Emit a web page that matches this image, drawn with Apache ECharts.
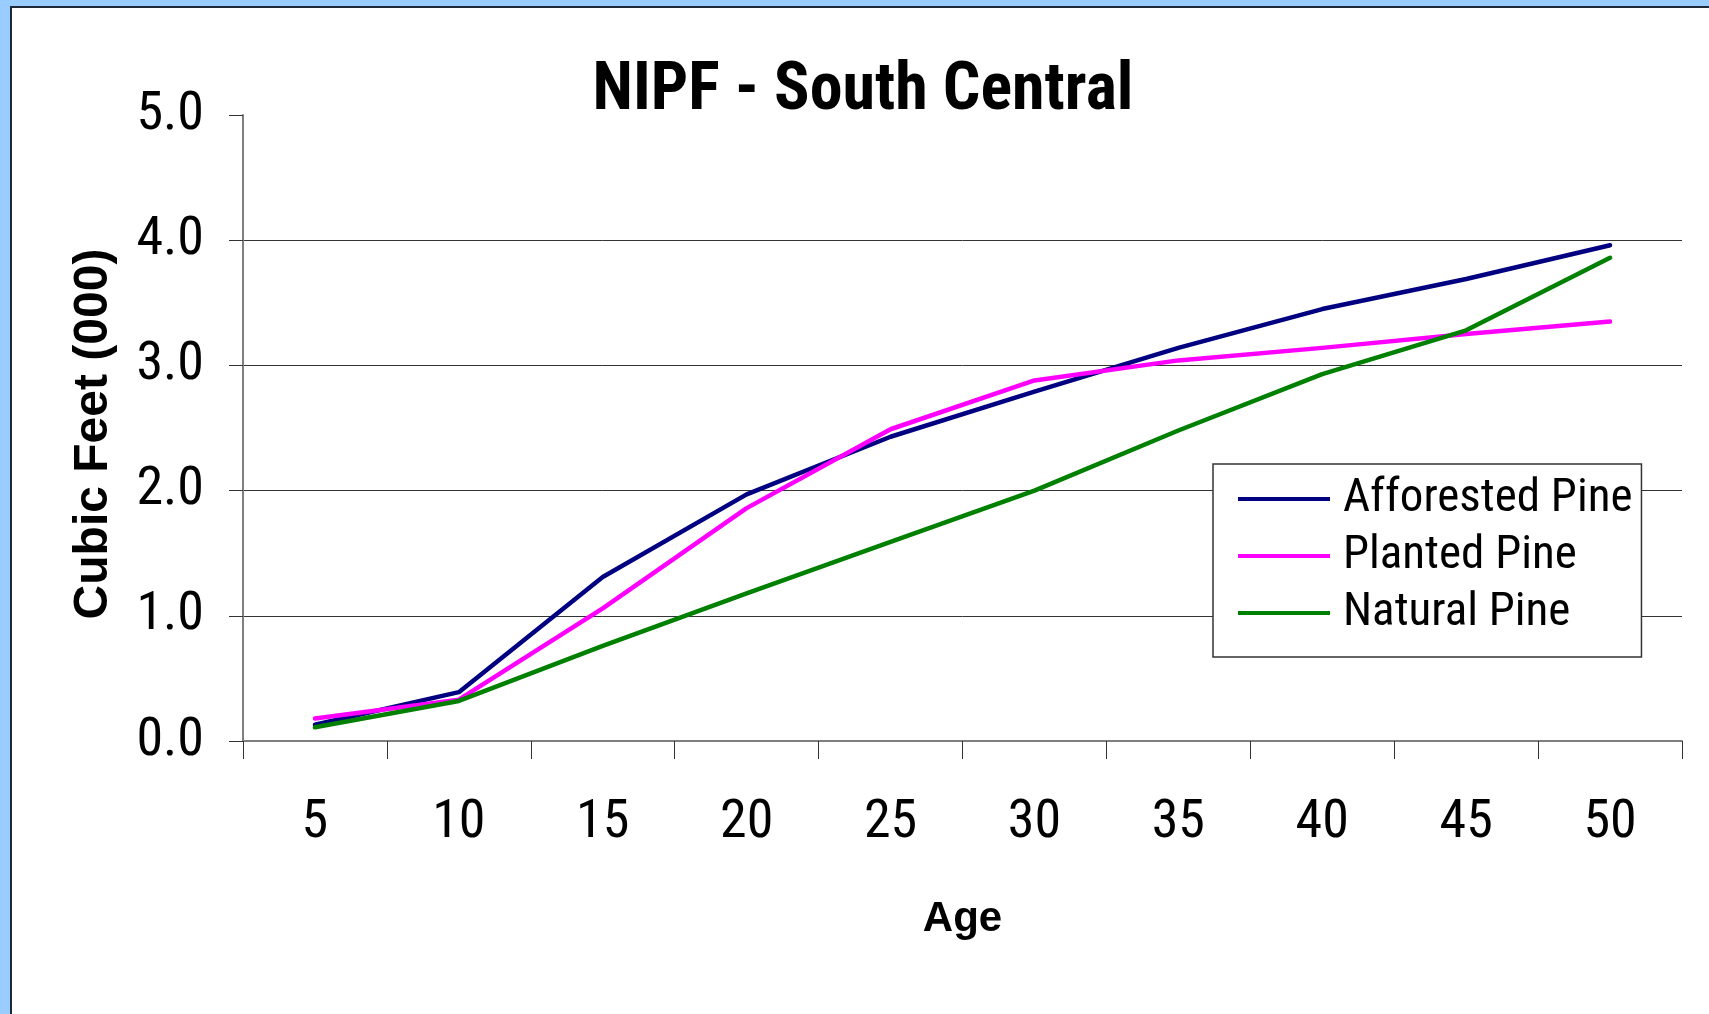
<!DOCTYPE html>
<html>
<head>
<meta charset="utf-8">
<title>NIPF - South Central</title>
<script src="https://cdn.jsdelivr.net/npm/echarts@6/dist/echarts.min.js"></script>
<style>
  html, body { margin: 0; padding: 0; background: #99CCFF; }
  #chart { width: 1709px; height: 1014px; }
</style>
</head>
<body>
<div id="chart"></div>
<script>
// Stand age (years) and volume per acre, in thousands of cubic feet
const ages = ['5', '10', '15', '20', '25', '30', '35', '40', '45', '50'];
const afforestedPine = [0.13, 0.39, 1.31, 1.97, 2.43, 2.79, 3.14, 3.45, 3.69, 3.96];
const plantedPine    = [0.18, 0.33, 1.06, 1.86, 2.49, 2.88, 3.04, 3.14, 3.25, 3.35];
const naturalPine    = [0.11, 0.32, 0.76, 1.18, 1.59, 2.00, 2.48, 2.93, 3.28, 3.86];
const seriesNames = ['Afforested Pine', 'Planted Pine', 'Natural Pine'];
const seriesColors = ['#000080', '#FF00FF', '#008000'];

const NARROW = '"Roboto Condensed", "Liberation Sans", Arial, sans-serif';
const SANS = '"Liberation Sans", Arial, Helvetica, sans-serif';

const chart = echarts.init(document.getElementById('chart'), null, { renderer: 'canvas' });

const seriesData = [afforestedPine, plantedPine, naturalPine];

chart.setOption({
  backgroundColor: '#99CCFF',
  animation: false,
  graphic: [{
    type: 'rect',
    z: -100,
    silent: true,
    shape: { x: 11, y: 7, width: 1720, height: 1030 },
    style: { fill: '#FFFFFF', stroke: '#1E2836', lineWidth: 2 }
  }],
  title: {
    text: 'NIPF - South Central',
    left: 858,
    top: 54,
    textAlign: 'center',
    textStyle: {
      fontFamily: NARROW,
      fontWeight: 'bold',
      fontSize: 66,
      lineHeight: 66,
      color: '#000'
    }
  },
  legend: {
    orient: 'vertical',
    left: 1213,
    top: 464,
    icon: 'rect',
    itemWidth: 92,
    itemHeight: 4,
    itemGap: 9,
    padding: [11, 9, 20, 25],
    backgroundColor: '#FFFFFF',
    borderColor: '#333333',
    borderWidth: 1.5,
    data: seriesNames,
    textStyle: {
      fontFamily: NARROW,
      fontSize: 47,
      lineHeight: 48,
      width: 281,
      color: '#000',
      padding: [0, 0, 0, 8]
    }
  },
  grid: {
    left: 243,
    right: 27,
    top: 115,
    bottom: 273,
    containLabel: false
  },
  xAxis: {
    type: 'category',
    data: ages,
    boundaryGap: true,
    name: 'Age',
    nameLocation: 'middle',
    nameGap: 157,
    nameTextStyle: {
      fontFamily: SANS,
      fontWeight: 'bold',
      fontSize: 42,
      lineHeight: 42,
      color: '#000'
    },
    axisLine: { lineStyle: { color: '#7F7F7F', width: 2 } },
    axisTick: { show: true, interval: 0, length: 18, lineStyle: { color: '#333', width: 1 } },
    axisLabel: {
      interval: 0,
      margin: 55,
      fontFamily: NARROW,
      fontSize: 54,
      lineHeight: 54,
      color: '#000'
    },
    splitLine: { show: false }
  },
  yAxis: {
    type: 'value',
    min: 0,
    max: 5,
    interval: 1,
    name: 'Cubic Feet (000)',
    nameLocation: 'middle',
    nameGap: 125,
    nameTextStyle: {
      fontFamily: SANS,
      fontWeight: 'bold',
      fontSize: 48,
      lineHeight: 48,
      color: '#000',
      padding: [0, 12, 0, 0]
    },
    axisLine: { show: true, lineStyle: { color: '#7F7F7F', width: 2 } },
    axisTick: { show: true, length: 14, lineStyle: { color: '#333', width: 1 } },
    axisLabel: {
      margin: 39,
      fontFamily: NARROW,
      fontSize: 54,
      lineHeight: 54,
      color: '#000',
      formatter: v => v.toFixed(1)
    },
    splitLine: {
      show: true,
      lineStyle: {
        color: ['#7F7F7F', '#333333', '#333333', '#333333', '#333333', 'rgba(0,0,0,0)'],
        width: 1
      }
    }
  },
  series: seriesNames.map((name, i) => ({
    name: name,
    type: 'line',
    data: seriesData[i],
    symbol: 'none',
    smooth: false,
    color: seriesColors[i],
    lineStyle: { color: seriesColors[i], width: 4.5, cap: 'round', join: 'round' }
  }))
});
</script>
</body>
</html>
